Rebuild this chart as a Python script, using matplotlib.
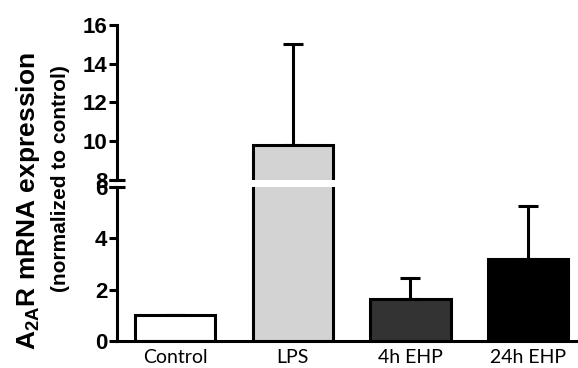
# grafico de barras con eje y cortado
import numpy as np
import matplotlib.pyplot as plt

plt.rcParams['mathtext.fontset'] = 'custom'
plt.rcParams['mathtext.bf'] = 'Liberation Sans:bold'
plt.rcParams['mathtext.rm'] = 'Liberation Sans'

# datos
grupos = ['Control', 'LPS', '4h EHP', '24h EHP']
medias = [1.0, 9.8, 1.65, 3.2]
errores = [0.0, 5.2, 0.8, 2.07]
colores = ['white', '#d3d3d3', '#333333', 'black']
ticks_abajo = [0, 2, 4, 6]
ticks_arriba = [8, 10, 12, 14, 16]

x = np.arange(len(grupos))
lw = 2.2

fig = plt.figure(figsize=(5.78, 3.68), dpi=100)
ax_abajo = fig.add_axes([0.2024, 0.0734, 0.797, 0.4185])
ax_arriba = fig.add_axes([0.2024, 0.5109, 0.797, 0.4212])

for ax in (ax_abajo, ax_arriba):
    ax.bar(x, medias, width=0.68, color=colores, edgecolor='black', linewidth=lw, zorder=2)
    ax.errorbar(x, medias, yerr=[np.zeros(len(errores)), errores], fmt='none',
                ecolor='black', elinewidth=lw, capsize=7, capthick=lw, zorder=1)
    ax.set_xlim(-0.493, 3.42)
    for lado in ('top', 'right'):
        ax.spines[lado].set_visible(False)
    ax.spines['left'].set_linewidth(lw)
    ax.tick_params(axis='y', direction='out', length=6, width=lw, pad=1)

ax_abajo.set_ylim(0, 6)
ax_abajo.set_yticks(ticks_abajo)
ax_abajo.spines['bottom'].set_linewidth(lw)
ax_abajo.set_xticks(x)
ax_abajo.set_xticklabels(grupos, fontsize=14, family='Lato')
ax_abajo.tick_params(axis='x', length=0, pad=6)

ax_arriba.set_ylim(8, 16)
ax_arriba.set_yticks(ticks_arriba)
ax_arriba.spines['bottom'].set_visible(False)
ax_arriba.set_xticks([])

for ax in (ax_abajo, ax_arriba):
    for etiqueta in ax.get_yticklabels():
        etiqueta.set_fontsize(16)
        etiqueta.set_fontweight('bold')
        etiqueta.set_family('Liberation Sans')

# marcas del corte
ax_abajo.plot([-0.017, 0.017], [1, 1], transform=ax_abajo.transAxes,
              color='black', lw=lw, clip_on=False, solid_capstyle='butt')
ax_arriba.plot([-0.017, 0.017], [0, 0], transform=ax_arriba.transAxes,
               color='black', lw=lw, clip_on=False, solid_capstyle='butt')

# etiquetas del eje y
fig.text(0.048, 0.454, r'A$_{\mathbf{2A}}$R mRNA expression', rotation=90,
         fontsize=19, fontweight='bold', family='Liberation Sans',
         ha='center', va='center')
fig.text(0.104, 0.516, '(normalized to control)', rotation=90,
         fontsize=15, fontweight='bold', family='Liberation Sans',
         ha='center', va='center')

fig.savefig('out.png', dpi=100)
